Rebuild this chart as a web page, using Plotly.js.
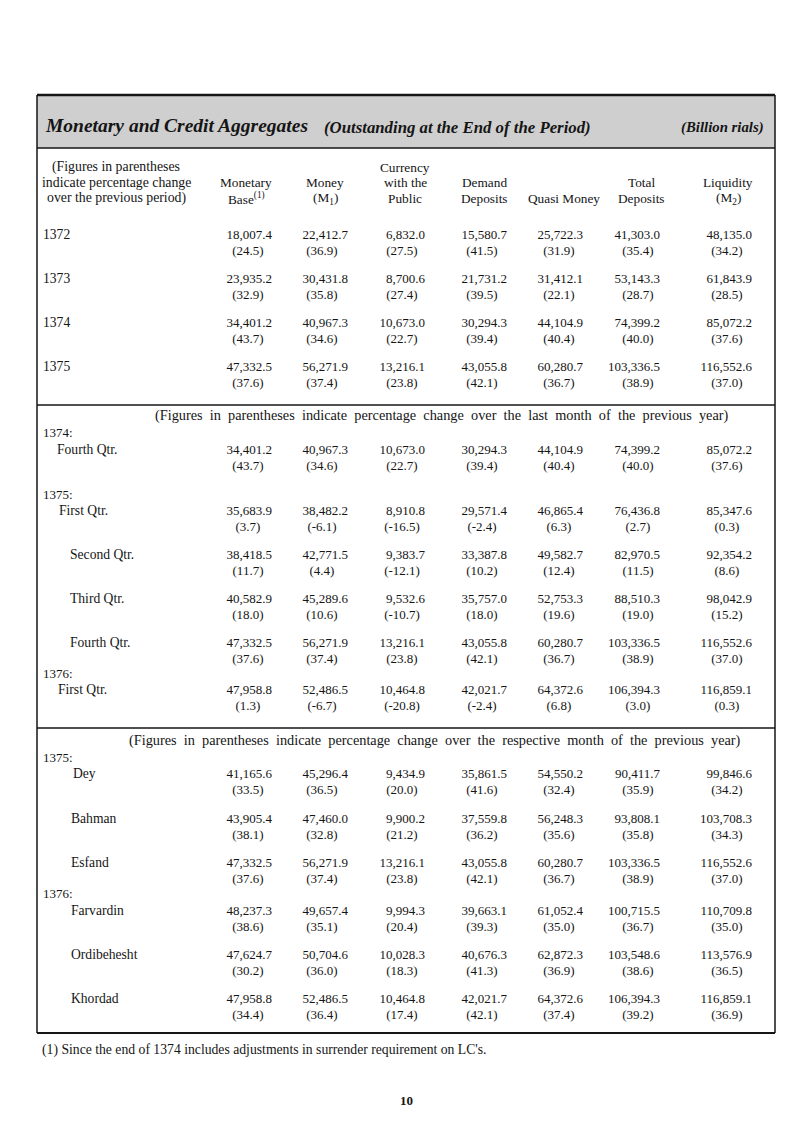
<!DOCTYPE html>
<html>
<head>
<meta charset="utf-8">
<script src="https://cdn.plot.ly/plotly-3.0.1.min.js"></script>
<style>
  html, body { margin: 0; padding: 0; background: #fff; }
  #chart { width: 787px; height: 1127px; }
</style>
</head>
<body>
<div id="chart"></div>
<script>
// Monetary and Credit Aggregates (Billion rials), values and % change in parentheses

const columnHeaders = [
    ['Monetary', 'Base<sup>(1)</sup>'],
    ['Money', '(M<sub>1</sub>)'],
    ['Currency', 'with the', 'Public'],
    ['Demand', 'Deposits'],
    ['Quasi Money'],
    ['Total', 'Deposits'],
    ['Liquidity', '(M<sub>2</sub>)']
];

const rowLabels = ['1372', '1373', '1374', '1375',
    'Fourth Qtr.', 'First Qtr.', 'Second Qtr.', 'Third Qtr.', 'Fourth Qtr.', 'First Qtr.',
    'Dey', 'Bahman', 'Esfand', 'Farvardin', 'Ordibehesht', 'Khordad'];

const monetaryBase = [18007.4, 23935.2, 34401.2, 47332.5, 34401.2, 35683.9, 38418.5, 40582.9, 47332.5, 47958.8,
    41165.6, 43905.4, 47332.5, 48237.3, 47624.7, 47958.8];
const monetaryBaseChg = [24.5, 32.9, 43.7, 37.6, 43.7, 3.7, 11.7, 18.0, 37.6, 1.3,
    33.5, 38.1, 37.6, 38.6, 30.2, 34.4];

const money = [22412.7, 30431.8, 40967.3, 56271.9, 40967.3, 38482.2, 42771.5, 45289.6, 56271.9, 52486.5,
    45296.4, 47460.0, 56271.9, 49657.4, 50704.6, 52486.5];
const moneyChg = [36.9, 35.8, 34.6, 37.4, 34.6, -6.1, 4.4, 10.6, 37.4, -6.7,
    36.5, 32.8, 37.4, 35.1, 36.0, 36.4];

const currency = [6832.0, 8700.6, 10673.0, 13216.1, 10673.0, 8910.8, 9383.7, 9532.6, 13216.1, 10464.8,
    9434.9, 9900.2, 13216.1, 9994.3, 10028.3, 10464.8];
const currencyChg = [27.5, 27.4, 22.7, 23.8, 22.7, -16.5, -12.1, -10.7, 23.8, -20.8,
    20.0, 21.2, 23.8, 20.4, 18.3, 17.4];

const demandDeposits = [15580.7, 21731.2, 30294.3, 43055.8, 30294.3, 29571.4, 33387.8, 35757.0, 43055.8, 42021.7,
    35861.5, 37559.8, 43055.8, 39663.1, 40676.3, 42021.7];
const demandDepositsChg = [41.5, 39.5, 39.4, 42.1, 39.4, -2.4, 10.2, 18.0, 42.1, -2.4,
    41.6, 36.2, 42.1, 39.3, 41.3, 42.1];

const quasiMoney = [25722.3, 31412.1, 44104.9, 60280.7, 44104.9, 46865.4, 49582.7, 52753.3, 60280.7, 64372.6,
    54550.2, 56248.3, 60280.7, 61052.4, 62872.3, 64372.6];
const quasiMoneyChg = [31.9, 22.1, 40.4, 36.7, 40.4, 6.3, 12.4, 19.6, 36.7, 6.8,
    32.4, 35.6, 36.7, 35.0, 36.9, 37.4];

const totalDeposits = [41303.0, 53143.3, 74399.2, 103336.5, 74399.2, 76436.8, 82970.5, 88510.3, 103336.5, 106394.3,
    90411.7, 93808.1, 103336.5, 100715.5, 103548.6, 106394.3];
const totalDepositsChg = [35.4, 28.7, 40.0, 38.9, 40.0, 2.7, 11.5, 19.0, 38.9, 3.0,
    35.9, 35.8, 38.9, 36.7, 38.6, 39.2];

const liquidity = [48135.0, 61843.9, 85072.2, 116552.6, 85072.2, 85347.6, 92354.2, 98042.9, 116552.6, 116859.1,
    99846.6, 103708.3, 116552.6, 110709.8, 113576.9, 116859.1];
const liquidityChg = [34.2, 28.5, 37.6, 37.0, 37.6, 0.3, 8.6, 15.2, 37.0, 0.3,
    34.2, 34.3, 37.0, 35.0, 36.5, 36.9];

const groupLabels = ['1374:', '1375:', '1376:', '1375:', '1376:'];

// ---- layout (pixel positions on a 787 x 1127 page) ----
const W = 787, H = 1127;
const FONT = 'Liberation Serif, Times New Roman, serif';
const INK = '#151515';

const colRight = [272, 348, 425, 507, 583, 660, 752];
const parenCenter = [248, 322, 402, 482, 559, 638, 727];
const colCenter = [246, 325, 405, 484, 564, 641, 728];
const rowY = [236, 280, 324, 368, 451, 512, 556, 600, 644, 691, 775, 820, 864, 912, 956, 1000];
const rowX = [43, 43, 43, 43, 57, 59, 70, 70, 70, 58, 73, 71, 71, 71, 71, 71];
const groupY = [434, 496, 675, 759, 895];
const lineGap = 16;

const columns = [
    [monetaryBase, monetaryBaseChg],
    [money, moneyChg],
    [currency, currencyChg],
    [demandDeposits, demandDepositsChg],
    [quasiMoney, quasiMoneyChg],
    [totalDeposits, totalDepositsChg],
    [liquidity, liquidityChg]
];

const fmtValue = v => v.toLocaleString('en-US', { minimumFractionDigits: 1, maximumFractionDigits: 1 });
const fmtChg = v => '(' + v.toFixed(1) + ')';
const wide = s => s.split(' ').join('\u2002');

const traces = [];

columns.forEach(([vals, chgs], i) => {
    traces.push({
        type: 'scatter',
        mode: 'text',
        x: vals.map(() => colRight[i]),
        y: rowY,
        text: vals.map(fmtValue),
        textposition: 'middle left',
        textfont: { family: FONT, size: 13, color: INK },
        hoverinfo: 'skip',
        showlegend: false
    });
    traces.push({
        type: 'scatter',
        mode: 'text',
        x: chgs.map(() => parenCenter[i]),
        y: rowY.map(y => y + lineGap),
        text: chgs.map(fmtChg),
        textposition: 'middle center',
        textfont: { family: FONT, size: 13, color: INK },
        hoverinfo: 'skip',
        showlegend: false
    });
});

// row labels
traces.push({
    type: 'scatter',
    mode: 'text',
    x: rowX,
    y: rowY,
    text: rowLabels,
    textposition: 'middle right',
    textfont: { family: FONT, size: 13.6, color: INK },
    hoverinfo: 'skip',
    showlegend: false
});
traces.push({
    type: 'scatter',
    mode: 'text',
    x: groupY.map(() => 43),
    y: groupY,
    text: groupLabels,
    textposition: 'middle right',
    textfont: { family: FONT, size: 13, color: INK },
    hoverinfo: 'skip',
    showlegend: false
});

const annotations = [];
const ann = (text, x, y, opts) => Object.assign({
    text: text, x: x, y: y, xref: 'x', yref: 'y', showarrow: false,
    xanchor: 'center', yanchor: 'middle',
    font: { family: FONT, size: 13, color: INK }
}, opts || {});

// column headers, bottom aligned
columnHeaders.forEach((lines, i) => {
    lines.forEach((t, k) => {
        const y = 198 - (lines.length - 1 - k) * 15.5;
        annotations.push(ann(t, colCenter[i], y, { font: { family: FONT, size: 13.3, color: INK } }));
    });
});
['(Figures in parentheses', 'indicate percentage change', 'over the previous period)'].forEach((t, k) => {
    annotations.push(ann(t, 116, 167 + k * 15.5, { font: { family: FONT, size: 13.8, color: INK } }));
});

// title band
annotations.push(ann('<b><i>Monetary and Credit Aggregates</i></b>', 43, 125,
    { xanchor: 'left', font: { family: FONT, size: 19.5, color: INK } }));
annotations.push(ann('<b><i>(Outstanding at the End of the Period)</i></b>', 322, 127,
    { xanchor: 'left', font: { family: FONT, size: 16.8, color: INK } }));
annotations.push(ann('<b><i>(Billion rials)</i></b>', 766, 127,
    { xanchor: 'right', font: { family: FONT, size: 14.8, color: INK } }));

// section notes
annotations.push(ann(wide('(Figures in parentheses indicate percentage change over the last month of the previous year)'), 442, 415,
    { font: { family: FONT, size: 14.3, color: INK } }));
annotations.push(ann(wide('(Figures in parentheses indicate percentage change over the respective month of the previous year)'), 435, 740,
    { font: { family: FONT, size: 14.3, color: INK } }));

// footnote and page number
annotations.push(ann("(1) Since the end of 1374 includes adjustments in surrender requirement on LC's.", 40, 1050,
    { xanchor: 'left', font: { family: FONT, size: 13.7, color: INK } }));
annotations.push(ann('<b>10</b>', 406, 1100, { font: { family: FONT, size: 13, color: INK } }));

const hline = (y, w) => ({ type: 'line', xref: 'x', yref: 'y', x0: 37, x1: 775, y0: y, y1: y,
    line: { color: INK, width: w || 1.5 } });

const shapes = [
    { type: 'rect', xref: 'x', yref: 'y', x0: 37, x1: 775, y0: 96, y1: 148,
      fillcolor: '#cfcfcf', line: { width: 0 }, layer: 'below' },
    hline(95, 2.5),
    hline(148, 1.5),
    hline(405, 1.5),
    hline(728, 1.5),
    hline(1033, 2),
    { type: 'line', xref: 'x', yref: 'y', x0: 37, x1: 37, y0: 95, y1: 1033, line: { color: INK, width: 1.5 } },
    { type: 'line', xref: 'x', yref: 'y', x0: 775, x1: 775, y0: 95, y1: 1033, line: { color: INK, width: 1.5 } }
];

const layout = {
    width: W,
    height: H,
    margin: { l: 0, r: 0, t: 0, b: 0 },
    paper_bgcolor: '#ffffff',
    plot_bgcolor: '#ffffff',
    xaxis: { range: [0, W], visible: false, fixedrange: true },
    yaxis: { range: [H, 0], visible: false, fixedrange: true },
    shapes: shapes,
    annotations: annotations,
    showlegend: false
};

Plotly.newPlot('chart', traces, layout, { displayModeBar: false, staticPlot: true });
</script>
</body>
</html>
